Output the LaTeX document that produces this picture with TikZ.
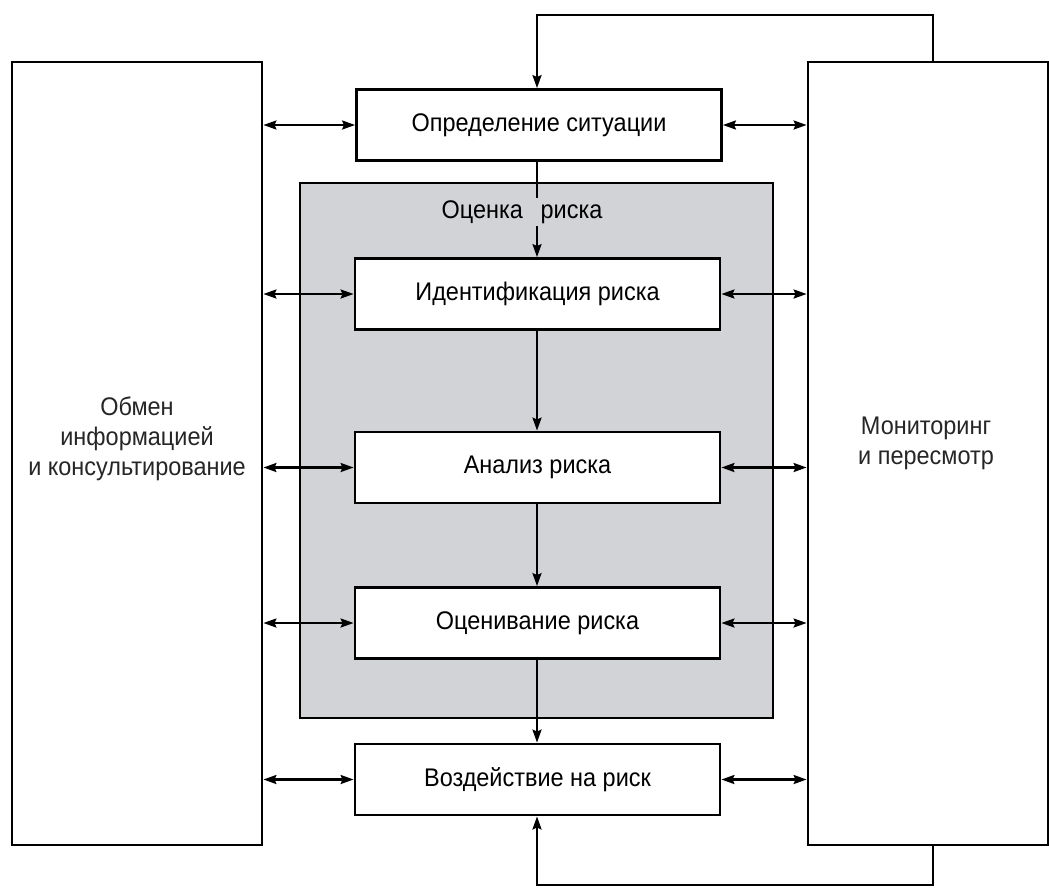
\documentclass[tikz,border=0pt]{standalone}
\usepackage{fontspec}
\setmainfont{Liberation Sans}[FakeStretch=0.92]
\usetikzlibrary{arrows.meta}
\definecolor{shade}{RGB}{210,211,215}
\begin{document}
\begin{tikzpicture}[x=1pt,y=-1pt,
  frame/.style={draw=black,line width=2.8pt,fill=white,inner sep=0pt},
  stage/.style={frame,minimum width=365pt,minimum height=71pt,font=\fontsize{25.5}{30}\selectfont},
  conn/.style={line width=2.4pt,-{Stealth[length=13pt,width=9pt,inset=2pt]}},
  dbl/.style={line width=2.4pt,{Stealth[length=13pt,width=9pt,inset=2pt]}-{Stealth[length=13pt,width=9pt,inset=2pt]}},
  sidetext/.style={align=center,font=\fontsize{25.5}{30}\selectfont,text=black!85}]
\useasboundingbox (0,0) rectangle (1049,892);
% side boxes
\node[frame,minimum width=250pt,minimum height=783pt] (L) at (137,453.5) {};
\node[sidetext] at (137,439) {Обмен\\информацией\\и консультирование};
\node[frame,minimum width=240pt,minimum height=783pt] (R) at (928,453.5) {};
\node[sidetext] at (926,443) {Мониторинг\\и пересмотр};
% shaded assessment area
\node[frame,fill=shade,minimum width=473pt,minimum height=535pt] (A) at (536.5,450.5) {};
% stages
\node[stage] (top) at (539,125) {Определение ситуации};
\node[stage] (ident) at (537.5,294) {Идентификация риска};
\node[stage] (anal) at (537.5,467.5) {Анализ риска};
\node[stage] (eval) at (537.5,623) {Оценивание риска};
\node[stage] (treat) at (537.5,779.5) {Воздействие на риск};
% vertical flow
\draw[conn] (top.south -| 537,0) -- (ident.north -| 537,0);
\node[fill=shade,inner sep=2pt,font=\fontsize{25.5}{30}\selectfont] (albl) at (522,212) {Оценка\hspace{0.7em}риска};
\draw[conn] (ident.south -| 537,0) -- (anal.north -| 537,0);
\draw[conn] (anal.south -| 537,0) -- (eval.north -| 537,0);
\draw[conn] (eval.south -| 537,0) -- (treat.north -| 537,0);
% feedback loops
\coordinate (rt) at (933,62);
\coordinate (t1) at (537,15);
\draw[conn] (rt) |- (t1) -- (top.north -| t1);
\coordinate (rb) at (933,845);
\coordinate (b1) at (537,885);
\draw[conn] (rb) |- (b1) -- (treat.south -| b1);
% side exchanges
\foreach \n in {top,ident,anal,eval,treat}{
  \draw[dbl] (\n.west -| L.east) -- (\n.west);
  \draw[dbl] (\n.east) -- (\n.east -| R.west);
}
\end{tikzpicture}
\end{document}
